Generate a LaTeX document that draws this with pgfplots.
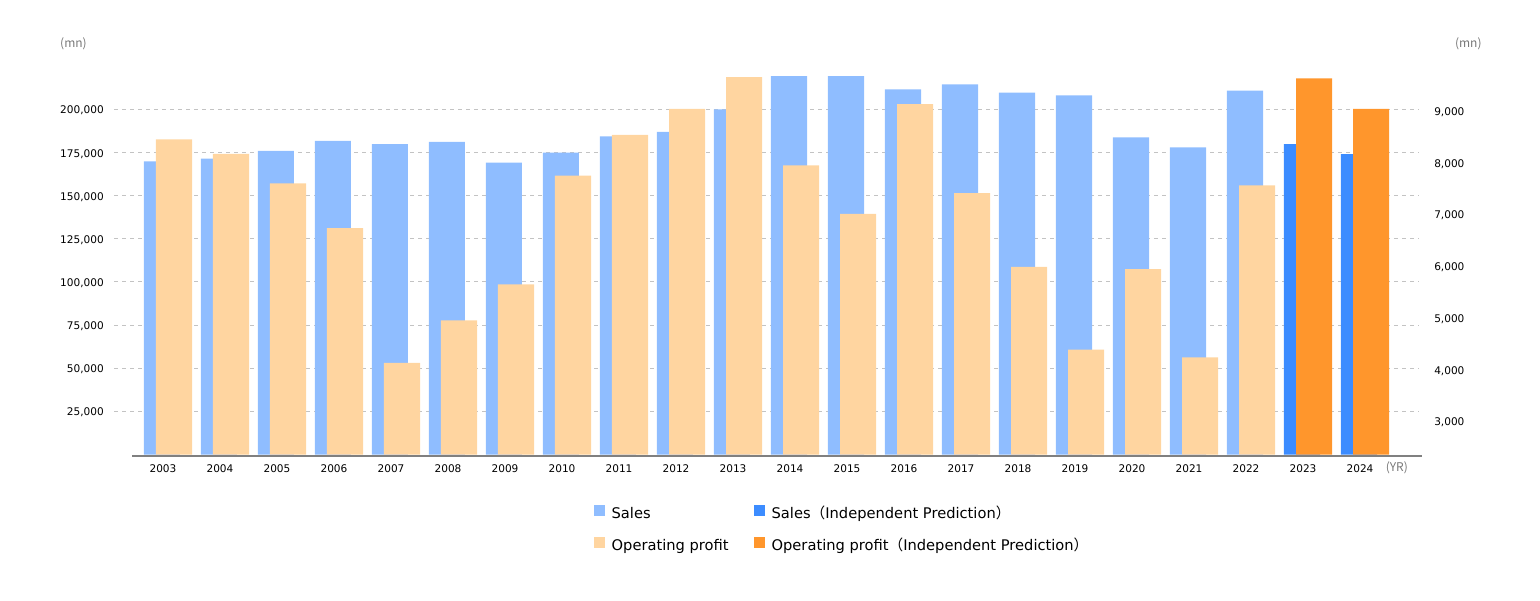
\documentclass[border=0pt]{standalone}
\usepackage{pgfplots}
\pgfplotsset{compat=1.18}
\usepackage{fontspec}
\setmainfont{DejaVu Sans}
\newfontfamily\cjk{Noto Sans CJK JP}
\definecolor{salesL}{RGB}{143,189,255}
\definecolor{salesD}{RGB}{60,140,255}
\definecolor{opL}{RGB}{255,213,160}
\definecolor{opD}{RGB}{255,150,44}
\definecolor{gridc}{RGB}{195,195,195}
\definecolor{axc}{RGB}{128,128,128}
\definecolor{unitc}{RGB}{120,120,120}
\newcommand\fl{{\cjk （}}
\newcommand\fr{{\cjk ）}}
\pgfplotsset{
  sqleg/.style={legend image code/.code={\fill[##1] (0pt,-0.75pt) rectangle (8.25pt,7.5pt);}},
  common/.style={
    scale only axis, width=978.75pt, height=283.125pt,
    at={(85.5pt,109.125pt)}, anchor=south west,
    xmin=-0.8596, xmax=22.035,
    axis line style={draw=none}, major tick length=0pt,
    /pgf/number format/assume math mode=true,
    ticklabel style={font=\fontsize{7.9}{9}\selectfont, inner sep=0pt},
  },
}
\begin{document}
\begin{tikzpicture}
\path[use as bounding box] (0pt,0pt) rectangle (1155pt,450pt);
\begin{axis}[common, ymin=0, ymax=218760,
  axis x line*=bottom, axis y line*=left,
  xtick={0,...,21},
  xticklabels={2003,2004,2005,2006,2007,2008,2009,2010,2011,2012,2013,2014,2015,2016,2017,2018,2019,2020,2021,2022,2023,2024},
  xticklabel style={yshift=-7.3pt},
  ytick={25000,50000,75000,100000,125000,150000,175000,200000},
  scaled y ticks=false,
  yticklabel style={/pgf/number format/fixed, /pgf/number format/1000 sep={,}, xshift=-7.5pt, yshift=-1pt},
  ymajorgrids, grid style={gridc, line width=0.75pt, dash pattern=on 3pt off 3pt},
]
\addplot[ybar, bar width=0.632, bar shift=0pt, fill=salesL, draw=none] coordinates {
(-0.018,169900) (0.982,171400) (1.982,175900) (2.982,181800) (3.982,179800)
(4.982,181100) (5.982,169100) (6.982,174900) (7.982,184400) (8.982,186900)
(9.982,200000) (10.982,225000) (11.982,225000) (12.982,211600) (13.982,214500)
(14.982,209700) (15.982,208100) (16.982,183800) (17.982,178000) (18.982,210800)};
\addplot[ybar, bar width=0.632, bar shift=0pt, fill=salesD, draw=none] coordinates {
(19.982,179900) (20.982,174100)};
\end{axis}
\begin{axis}[common, ymin=2359, ymax=9651,
  axis x line=none, axis y line*=right,
  ytick={3000,4000,5000,6000,7000,8000,9000},
  yticklabel style={/pgf/number format/fixed, /pgf/number format/1000 sep={,}, xshift=11.25pt, yshift=-1pt},
  legend columns=2, legend cell align=left,
  legend style={at={(0.3678,-0.1325)}, anchor=north west, draw=none, fill=none,
    inner sep=0pt, outer sep=0pt, font=\fontsize{11}{12}\selectfont, row sep=11.25pt,
    nodes={inner sep=0pt, text height=8pt, text depth=2.5pt},
    /tikz/every odd column/.append style={column sep=5pt},
    /tikz/every even column/.append style={column sep=19pt}},
]
\addlegendimage{sqleg, fill=salesL, draw=none}
\addlegendentry{Sales}
\addlegendimage{sqleg, fill=salesD, draw=none}
\addlegendentry{Sales\fl Independent Prediction\fr}
\addplot[ybar, bar width=0.632, bar shift=0pt, fill=opL, draw=none, sqleg] coordinates {
(0.193,8448) (1.193,8164) (2.193,7598) (3.193,6734) (4.193,4127)
(5.193,4951) (6.193,5647) (7.193,7744) (8.193,8531) (9.193,9033)
(10.193,9800) (11.193,7945) (12.193,7005) (13.193,9129) (14.193,7410)
(15.193,5981) (16.193,4383) (17.193,5942) (18.193,4237) (19.193,7559)};
\addlegendentry{Operating profit}
\addplot[ybar, bar width=0.632, bar shift=0pt, fill=opD, draw=none, sqleg] coordinates {
(20.193,9626) (21.193,9033)};
\addlegendentry{Operating profit\fl Independent Prediction\fr}
\end{axis}
\draw[axc, line width=1.5pt] (99pt,108.375pt) -- (1066.5pt,108.375pt);
\node[font=\cjk\fontsize{9}{10}\selectfont, text=unitc, inner sep=0pt] at (55.1pt,417.5pt) {(mn)};
\node[font=\cjk\fontsize{9}{10}\selectfont, text=unitc, inner sep=0pt] at (1101.2pt,417.5pt) {(mn)};
\node[font=\cjk\fontsize{9}{10}\selectfont, text=unitc, inner sep=0pt] at (1047.6pt,99pt) {(YR)};
\end{tikzpicture}
\end{document}
